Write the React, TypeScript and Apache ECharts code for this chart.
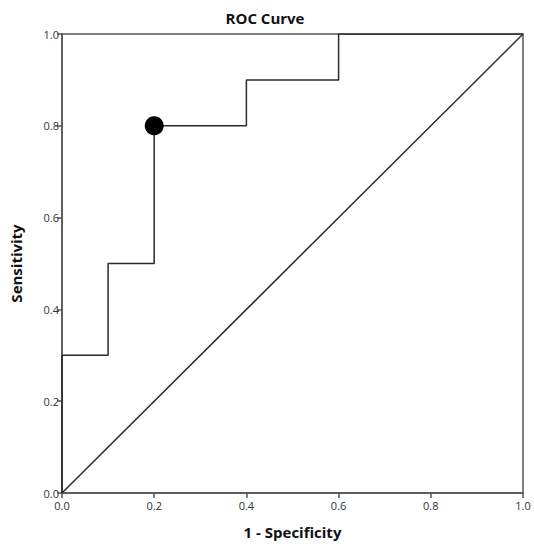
import React, { useEffect, useRef } from "react";
import * as echarts from "echarts";

const fprValues = [0, 0, 0.1, 0.1, 0.2, 0.2, 0.4, 0.4, 0.6, 0.6, 1.0];
const tprValues = [0, 0.3, 0.3, 0.5, 0.5, 0.8, 0.8, 0.9, 0.9, 1.0, 1.0];
const diagonalX = [0, 1];
const diagonalY = [0, 1];
const cutoffPoint = [0.2, 0.8];

export default function App() {
  const ref = useRef<HTMLDivElement>(null);
  useEffect(() => {
    document.body.style.margin = "0";
    if (!ref.current) return;
    const chart = echarts.init(ref.current, undefined, { renderer: "svg" });
    const lineColor = "#2a2a2a";
    const axisCommon = {
      type: "value" as const,
      min: 0,
      max: 1,
      interval: 0.2,
      splitLine: { show: false },
      axisLine: { show: true, onZero: false, lineStyle: { color: "#555555", width: 1.5 } },
      axisTick: { show: true, length: 5, lineStyle: { color: "#555555", width: 1.5 } },
      axisLabel: {
        color: "#333333",
        fontSize: 11,
        fontFamily: "Open Sans",
        formatter: (v: number) => v.toFixed(1),
      },
      nameTextStyle: {
        color: "#111111",
        fontSize: 15,
        fontWeight: "bold" as const,
        fontFamily: "Open Sans",
      },
    };
    chart.setOption({
      animation: false,
      backgroundColor: "#ffffff",
      title: {
        text: "ROC Curve",
        left: 260,
        top: 5,
        textAlign: "center",
        textStyle: { color: "#111111", fontSize: 15, fontWeight: "bold", fontFamily: "Open Sans" },
      },
      grid: {
        left: 62,
        right: 11,
        top: 34,
        bottom: 48,
        show: true,
        borderColor: "#555555",
        borderWidth: 1.5,
        backgroundColor: "transparent",
      },
      xAxis: {
        ...axisCommon,
        name: "1 - Specificity",
        nameLocation: "middle",
        nameGap: 31,
        axisLabel: { ...axisCommon.axisLabel, margin: 7 },
      },
      yAxis: {
        ...axisCommon,
        name: "Sensitivity",
        nameLocation: "middle",
        nameGap: 39,
        axisLabel: { ...axisCommon.axisLabel, margin: 3 },
      },
      series: [
        {
          type: "line",
          data: diagonalX.map((x, i) => [x, diagonalY[i]]),
          symbol: "none",
          lineStyle: { color: lineColor, width: 1.5 },
          silent: true,
        },
        {
          type: "line",
          data: fprValues.map((x, i) => [x, tprValues[i]]),
          symbol: "none",
          lineStyle: { color: lineColor, width: 1.5 },
          silent: true,
        },
        {
          type: "scatter",
          data: [cutoffPoint],
          symbolSize: 19,
          itemStyle: { color: "#000000", opacity: 1 },
          z: 5,
        },
      ],
    });
    return () => chart.dispose();
  }, []);
  return <div ref={ref} style={{ width: 534, height: 544 }} />;
}
